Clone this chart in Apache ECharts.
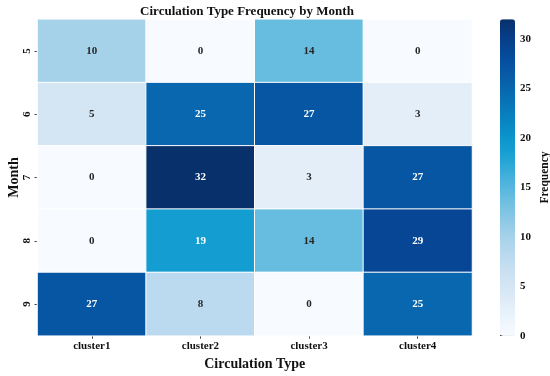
<!DOCTYPE html>
<html><head><meta charset="utf-8">
<script src="https://cdn.jsdelivr.net/npm/echarts@6/dist/echarts.min.js"></script>
<style>html,body{margin:0;padding:0;background:#fff}#c{width:550px;height:376px}</style>
</head><body><div id="c"></div>
<script>
const clusters = ['cluster1','cluster2','cluster3','cluster4'];
const months = ['5','6','7','8','9'];
const m5 = [10, 0, 14, 0];
const m6 = [5, 25, 27, 3];
const m7 = [0, 32, 3, 27];
const m8 = [0, 19, 14, 29];
const m9 = [27, 8, 0, 25];
const colorTicks = [0,5,10,15,20,25,30];
const vMin = 0, vMax = 32;

const rows = [m5, m6, m7, m8, m9];
const data = [];
rows.forEach((r, yi) => r.forEach((v, xi) => {
  data.push({value: [xi, yi, v], label: {color: v >= 17 ? '#ffffff' : '#262626'}});
}));
const FONT = '"Liberation Serif","Times New Roman",serif';
const gridTop = 19.3, gridH = 316.4;
const chart = echarts.init(document.getElementById('c'));
chart.setOption({
  animation: false,
  textStyle: {fontFamily: FONT},
  title: {text: 'Circulation Type Frequency by Month', left: 242, textAlign: 'center', top: 0,
    textStyle: {fontFamily: FONT, fontWeight: 'bold', fontSize: 13, color: '#111'}},
  grid: [
    {left: 37.5, width: 434.5, top: gridTop, height: gridH, outerBoundsMode: 'none', containLabel: false},
    {left: 500, width: 15, top: gridTop, height: gridH, outerBoundsMode: 'none', containLabel: false}
  ],
  xAxis: [
    {type: 'category', data: clusters, gridIndex: 0, name: 'Circulation Type', nameLocation: 'middle', nameGap: 22,
      nameTextStyle: {fontFamily: FONT, fontWeight: 'bold', fontSize: 14, color: '#111'},
      axisLine: {show: false}, axisTick: {show: true, alignWithLabel: true, length: 3, lineStyle: {color: '#444'}},
      axisLabel: {fontFamily: FONT, fontWeight: 'bold', fontSize: 11, color: '#111', margin: 5},
      splitLine: {show: false}},
    {type: 'value', gridIndex: 1, show: false, min: 0, max: 1}
  ],
  yAxis: [
    {type: 'category', data: months, gridIndex: 0, inverse: true, name: 'Month', nameLocation: 'middle', nameGap: 16,
      nameMoveOverlap: false,
      nameTextStyle: {fontFamily: FONT, fontWeight: 'bold', fontSize: 14, color: '#111'},
      axisLine: {show: false}, axisTick: {show: true, alignWithLabel: true, length: 3, lineStyle: {color: '#444'}},
      axisLabel: {fontFamily: FONT, fontWeight: 'bold', fontSize: 11, color: '#111', rotate: 90, margin: 5},
      splitLine: {show: false}},
    {type: 'value', gridIndex: 1, position: 'right', min: vMin, max: vMax,
      name: 'Frequency', nameLocation: 'middle', nameGap: 24, nameRotate: 90,
      nameTextStyle: {fontFamily: FONT, fontWeight: 'bold', fontSize: 11.5, color: '#111'},
      axisLine: {show: false}, splitLine: {show: false},
      axisTick: {show: true, length: 3, lineStyle: {color: '#444'}, customValues: colorTicks},
      axisLabel: {fontFamily: FONT, fontWeight: 'bold', fontSize: 11, color: '#111', margin: 5, customValues: colorTicks}}
  ],
  visualMap: {
    type: 'continuous', min: vMin, max: vMax, calculable: false, orient: 'vertical',
    left: 500, top: gridTop, itemWidth: 15, itemHeight: gridH, padding: 0, text: null, showLabel: false,
    seriesIndex: 0,
    inRange: {color: ['#f7fbff','#eaf3fb','#dbe9f6','#cde2f2','#bcdaef','#a6d2e9','#88c7e4','#67bde0','#45b0dc','#1ea3d4','#0a96cc','#0883c0','#0870b4','#085ea8','#064d9e','#073f8a','#08306b']}
  },
  series: [{
    type: 'heatmap', xAxisIndex: 0, yAxisIndex: 0, data: data,
    itemStyle: {borderColor: '#ffffff', borderWidth: 1},
    label: {show: true, fontFamily: FONT, fontWeight: 'bold', fontSize: 11, formatter: p => p.value[2]},
    emphasis: {disabled: true}
  }]
});
</script></body></html>
